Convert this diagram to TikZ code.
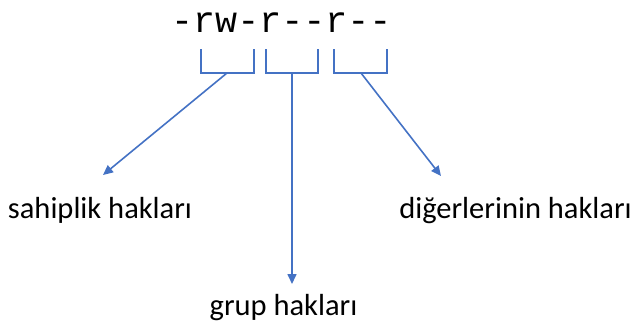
\documentclass[tikz,border=0pt]{standalone}
\usepackage{fontspec}
\setmainfont{Carlito}
\newfontfamily\permfont{Liberation Mono}
\usetikzlibrary{arrows.meta}
\definecolor{offblue}{HTML}{4472C4}
\tikzset{
  brk/.style={draw=offblue, line width=1.6pt},
  conn/.style={draw=offblue, line width=1.6pt, -{Triangle[length=10pt,width=9pt]}},
  lbl/.style={font=\fontsize{30.5}{34}\selectfont, inner sep=0pt, anchor=base},
}
\begin{document}
\begin{tikzpicture}[x=1pt,y=-1pt]
\useasboundingbox (0,0) rectangle (640,327);
\node[inner sep=0pt, anchor=base west, font=\permfont\fontsize{36.7}{40}\selectfont] (perm) at (171,32) {-rw-r--r--};
% brackets
\draw[brk] (201,49) -- (201,73) -- (254,73) -- (254,49);
\draw[brk] (266,49) -- (266,73) -- (318,73) -- (318,49);
\draw[brk] (334,49) -- (334,73) -- (387,73) -- (387,49);
\coordinate (b1) at (227,73);
\coordinate (b2) at (292,73);
\coordinate (b3) at (361,73);
\coordinate (e1) at (103,175);
\coordinate (e2) at (292,284);
\coordinate (e3) at (441,176);
\node[lbl] (owner) at (100,218) {sahiplik hakları};
\node[lbl] (group) at (283.5,315) {grup hakları};
\node[lbl] (others) at (515.5,218) {diğerlerinin hakları};
\draw[conn] (b1) -- (e1);
\draw[conn] (b2) -- (e2);
\draw[conn] (b3) -- (e3);
\end{tikzpicture}
\end{document}
